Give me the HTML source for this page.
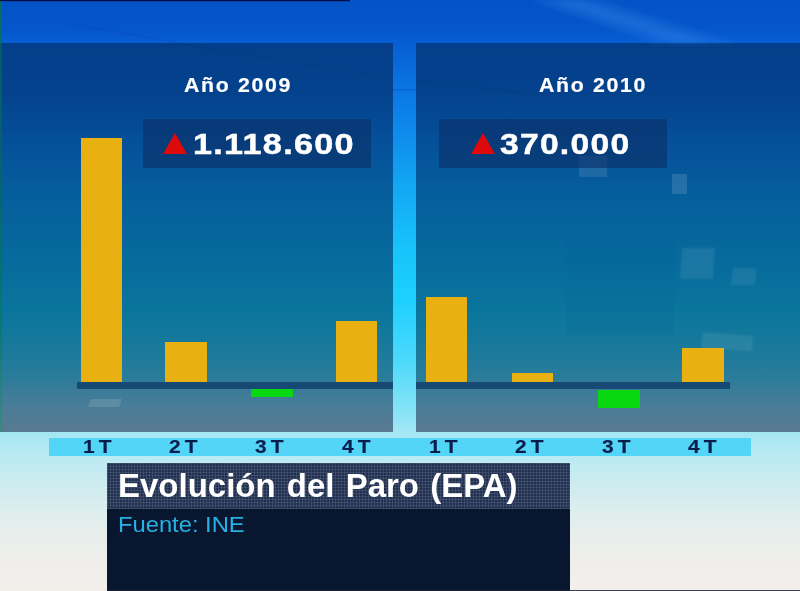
<!DOCTYPE html>
<html lang="es">
<head>
<meta charset="utf-8">
<title>Evolución del Paro (EPA)</title>
<style>
*{margin:0;padding:0;box-sizing:border-box}
html,body{width:800px;height:591px;overflow:hidden;background:#f2efeb}
body{font-family:"Liberation Sans",sans-serif;position:relative}
#stage{position:absolute;left:0;top:0;width:800px;height:591px;overflow:hidden;
 background:linear-gradient(to bottom,
  #0453c6 0px,#0556ca 30px,#075ed4 43px,#0a6cdc 70px,#0c80e8 110px,#12a4f3 180px,#18c4fb 250px,#1ed0ff 300px,
  #4cd9fb 360px,#86e3f7 410px,#a4e6f3 432px,#bbeaf3 458px,#d1ecef 490px,#e4eeec 525px,#efeeeb 558px,#f2efeb 591px)}
.abs{position:absolute}
.topline{left:0;top:0;width:350px;height:2px;background:linear-gradient(to bottom,#030c44 0,#030c44 1px,rgba(3,30,110,.3) 1px,rgba(3,30,110,.3) 2px)}
.leftedge{left:0;top:1px;width:2px;height:431px;background:linear-gradient(to bottom,#066e66 0,#066e66 42px,#055c5e 43px,#066866 200px,#0c7872 330px,#3a8a84 431px)}
.panel{top:43px;height:389px;
 background:linear-gradient(to bottom,#043e8a 0px,#04428d 50px,#05509a 100px,#055e9c 150px,#06669c 195px,#076d9c 230px,#0a759c 268px,#1a7a9b 308px,#2c7c9a 336px,#3c7c99 349px,#4a7c97 364px,#587a90 389px)}
#p1{left:0;width:393px}
#p2{left:416px;width:384px}
.year{color:#fff;font-weight:bold;-webkit-text-stroke:0.2px #fff;font-size:20.3px;letter-spacing:1.6px;line-height:20px;white-space:nowrap;transform:scaleX(1.05);transform-origin:0 0}
.box{height:49px;background:rgba(10,44,100,.58);top:119px}
.num{color:#fff;font-weight:bold;font-size:29.5px;letter-spacing:1.1px;-webkit-text-stroke:0.5px #fff;line-height:29px;white-space:nowrap;transform:scaleX(1.16);transform-origin:0 0}
.tri{width:0;height:0;border-left:12.5px solid transparent;border-right:12.5px solid transparent;border-bottom:21px solid #dc0a0a}
.bar{background:#e8b010}
.neg{background:#08d810}
.base{background:#164a74;height:7px;top:382px}
.strip{left:49px;top:438px;width:702px;height:18px;background:#53d5f7}
.lab{top:437.8px;height:18px;line-height:18px;word-spacing:-1.4px;font-size:18.2px;font-weight:bold;color:#0a1e4e;-webkit-text-stroke:0.15px #0a1e4e;letter-spacing:0;white-space:pre;transform:scaleX(1.15);transform-origin:0 0}
.tbox{left:107px;top:463px;width:463px;height:128px;background:#081630}
.thead{left:107px;top:463px;width:463px;height:46px;background:linear-gradient(to right,rgba(105,125,155,.30) 1px,transparent 1px) 0 0/3px 3px,linear-gradient(to bottom,rgba(105,125,155,.30) 1px,transparent 1px) 0 0/3px 3px,#222f4e}
.title{left:117.5px;top:468px;color:#fff;font-weight:bold;font-size:32.5px;line-height:36px;white-space:nowrap;word-spacing:2px;transform:scaleX(1.015);transform-origin:0 0}
.src{left:118px;top:512px;color:#28b0e4;font-size:22.5px;line-height:26px;white-space:nowrap;transform:scaleX(1.055);transform-origin:0 0}
</style>
</head>
<body>
<div id="stage">
  <div class="abs topline"></div>
  <div class="abs panel" id="p1"></div>
  <div class="abs panel" id="p2"></div>
  <div class="abs leftedge"></div>
  <svg class="abs" style="left:0;top:0" width="800" height="591" viewBox="0 0 800 591">
    <polygon points="530,0 600,0 735,43 655,43" fill="#3a8cf0" opacity="0.20" style="filter:blur(2px)"/>
    <polygon points="548,0 580,0 712,43 676,43" fill="#5aa4f8" opacity="0.13" style="filter:blur(2px)"/>
    <line x1="58" y1="22" x2="175" y2="42" stroke="#0a3c9c" stroke-width="1" opacity="0.25"/>
    <line x1="58" y1="123" x2="135" y2="131" stroke="#0a3c8c" stroke-width="1" opacity="0.2"/>
    <line x1="175" y1="43" x2="393" y2="78" stroke="#062c70" stroke-width="1" opacity="0.2"/>
    <line x1="416" y1="80" x2="540" y2="95" stroke="#062c70" stroke-width="1" opacity="0.2"/>
    <line x1="393" y1="90" x2="416" y2="90" stroke="#0648b0" stroke-width="1.5" opacity="0.35"/>
    <rect x="566" y="235" width="108" height="100" fill="#04508c" opacity="0.07"/>
    <rect x="672" y="174" width="15" height="20" fill="#fff" opacity="0.12" style="filter:blur(0.7px)"/>
    <rect x="579" y="156" width="28" height="21" fill="#fff" opacity="0.10"/>
    <polygon points="682,248 715,248 713,279 680,279" fill="#fff" opacity="0.08" style="filter:blur(0.8px)"/>
    <polygon points="733,268 757,268 755,285 731,285" fill="#fff" opacity="0.07" style="filter:blur(0.8px)"/>
    <polygon points="703,332 753,336 752,351 701,348" fill="#fff" opacity="0.08" style="filter:blur(0.8px)"/>
    <polygon points="91,399 122,399 119,407 88,407" fill="#fff" opacity="0.12" style="filter:blur(0.6px)"/>
    
  </svg>

  <div class="abs year" style="left:183.5px;top:75px">Año 2009</div>
  <div class="abs year" style="left:539px;top:75px">Año 2010</div>

  <div class="abs box" style="left:143px;width:228px"></div>
  <div class="abs box" style="left:439px;width:228px"></div>
  <div class="abs tri" style="left:163px;top:133px"></div>
  <div class="abs tri" style="left:471px;top:133px"></div>
  <div class="abs num" style="left:193px;top:129px">1.118.600</div>
  <div class="abs num" style="left:500px;top:129px;transform:scaleX(1.14)">370.000</div>

  <div class="abs base" style="left:77px;width:316px"></div>
  <div class="abs base" style="left:416px;width:314px"></div>

  <div class="abs bar" style="left:81px;top:138.4px;width:41px;height:243.6px"></div>
  <div class="abs bar" style="left:165px;top:342px;width:42px;height:40px"></div>
  <div class="abs neg" style="left:251px;top:389px;width:42px;height:8px"></div>
  <div class="abs bar" style="left:336px;top:321px;width:41px;height:61px"></div>

  <div class="abs bar" style="left:426px;top:297px;width:41px;height:85px"></div>
  <div class="abs bar" style="left:512px;top:373px;width:41px;height:9px"></div>
  <div class="abs neg" style="left:598px;top:390px;width:42px;height:18px"></div>
  <div class="abs bar" style="left:682px;top:348px;width:42px;height:34px"></div>

  <div class="abs strip"></div>
  <div class="abs lab" style="left:83.2px">1 T</div>
  <div class="abs lab" style="left:169px">2 T</div>
  <div class="abs lab" style="left:255px">3 T</div>
  <div class="abs lab" style="left:342px">4 T</div>
  <div class="abs lab" style="left:429px">1 T</div>
  <div class="abs lab" style="left:515px">2 T</div>
  <div class="abs lab" style="left:602px">3 T</div>
  <div class="abs lab" style="left:688px">4 T</div>

  <div class="abs tbox"></div>
  <div class="abs thead"></div>
  <div class="abs" style="left:107px;top:590px;width:693px;height:1px;background:rgba(34,38,50,.85)"></div>
  <div class="abs title">Evolución del Paro (EPA)</div>
  <div class="abs src">Fuente: INE</div>
</div>
</body>
</html>
